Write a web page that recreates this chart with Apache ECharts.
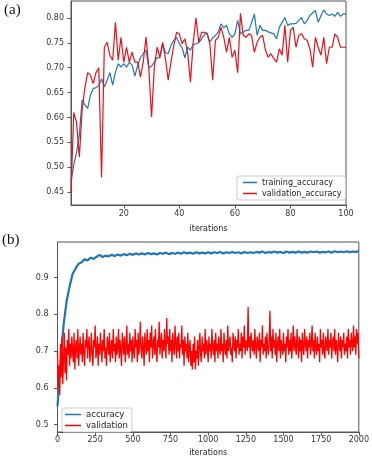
<!DOCTYPE html>
<html><head><meta charset="utf-8">
<script src="https://cdn.jsdelivr.net/npm/echarts@6/dist/echarts.min.js"></script>
<style>html,body{margin:0;padding:0;background:#fff}#c{width:372px;height:458px}</style>
</head><body><div id="c"></div>
<script>
// ---- (a) data: iterations 1..100 ----
const trainingAccuracy = [
0.47,0.505,0.53,0.565,0.635,0.625,0.618,0.645,0.658,0.660,
0.663,0.678,0.661,0.675,0.690,0.665,0.691,0.708,0.701,0.708,
0.701,0.711,0.705,0.683,0.705,0.720,0.728,0.735,0.700,0.703,
0.711,0.720,0.720,0.747,0.730,0.728,0.745,0.755,0.761,0.748,
0.740,0.720,0.741,0.735,0.747,0.748,0.750,0.758,0.766,0.770,
0.751,0.760,0.765,0.772,0.788,0.780,0.785,0.768,0.761,0.768,
0.795,0.768,0.771,0.775,0.775,0.790,0.808,0.765,0.785,0.775,
0.775,0.772,0.770,0.768,0.758,0.781,0.791,0.801,0.785,0.788,
0.788,0.789,0.795,0.801,0.788,0.795,0.805,0.810,0.815,0.791,
0.805,0.816,0.808,0.805,0.808,0.803,0.811,0.803,0.808,0.808];
const validationAccuracy = [
0.45,0.61,0.59,0.52,0.615,0.66,0.69,0.685,0.668,0.69,
0.70,0.48,0.741,0.751,0.725,0.715,0.791,0.715,0.761,0.711,
0.741,0.711,0.731,0.711,0.711,0.681,0.711,0.762,0.700,0.601,
0.701,0.741,0.721,0.751,0.718,0.675,0.711,0.745,0.771,0.768,
0.748,0.758,0.730,0.671,0.751,0.800,0.751,0.771,0.771,0.768,
0.748,0.675,0.755,0.761,0.781,0.761,0.731,0.761,0.721,0.735,
0.690,0.809,0.765,0.761,0.768,0.765,0.731,0.751,0.761,0.765,
0.735,0.721,0.728,0.718,0.711,0.738,0.725,0.785,0.711,0.775,
0.781,0.741,0.765,0.768,0.758,0.755,0.738,0.701,0.761,0.741,
0.725,0.761,0.708,0.741,0.741,0.768,0.761,0.741,0.741,0.741];
const yTicksA = [0.45,0.50,0.55,0.60,0.65,0.70,0.75,0.80];
const xTicksA = [20,40,60,80,100];

// ---- (b) data ----
// accuracy sampled every 20 iterations (0..2000)
const accuracyB = [
0.55,0.67,0.77,0.835,0.875,0.91,0.925,0.938,0.942,0.95,0.947,0.955,0.951,0.957,0.962,0.956,0.96,0.958,0.962,0.959,
0.963,0.96,0.964,0.961,0.965,0.962,0.966,0.963,0.966,0.963,0.967,0.964,0.966,0.963,0.967,0.965,0.968,0.964,0.967,0.965,
0.968,0.965,0.969,0.966,0.968,0.965,0.969,0.966,0.968,0.966,0.969,0.966,0.969,0.967,0.97,0.966,0.969,0.967,0.97,0.967,
0.969,0.966,0.97,0.967,0.969,0.967,0.97,0.968,0.971,0.967,0.97,0.968,0.971,0.968,0.97,0.967,0.971,0.968,0.97,0.968,
0.971,0.968,0.97,0.968,0.971,0.969,0.971,0.968,0.97,0.969,0.971,0.968,0.972,0.969,0.971,0.969,0.972,0.969,0.971,0.97,
0.972];
// validation sampled every 5 iterations (0..2000)
const validationB = [
0.70,0.60,0.66,0.58,0.72,0.63,0.74,0.61,0.68,0.75,0.64,0.71,0.62,0.73,0.69,0.76,0.66,0.72,0.68,0.74,
0.70,0.67,0.75,0.65,0.71,0.73,0.68,0.76,0.66,0.70,0.74,0.69,0.72,0.67,0.75,0.70,0.66,0.73,0.71,0.76,
0.68,0.72,0.74,0.67,0.70,0.75,0.69,0.66,0.73,0.71,0.77,0.68,0.70,0.74,0.66,0.72,0.69,0.75,0.71,0.67,
0.73,0.70,0.76,0.68,0.71,0.66,0.74,0.72,0.69,0.75,0.67,0.71,0.73,0.68,0.76,0.70,0.72,0.67,0.74,0.69,
0.71,0.76,0.68,0.73,0.70,0.66,0.75,0.72,0.69,0.74,0.67,0.71,0.77,0.69,0.72,0.68,0.75,0.70,0.73,0.67,
0.74,0.70,0.68,0.76,0.71,0.73,0.67,0.75,0.69,0.72,0.78,0.70,0.68,0.74,0.71,0.66,0.75,0.72,0.69,0.76,
0.70,0.73,0.67,0.75,0.71,0.77,0.68,0.72,0.74,0.69,0.76,0.70,0.67,0.73,0.71,0.78,0.69,0.72,0.75,0.68,
0.73,0.70,0.76,0.71,0.68,0.79,0.72,0.74,0.69,0.76,0.70,0.73,0.67,0.75,0.71,0.69,0.77,0.72,0.68,0.74,
0.70,0.75,0.68,0.72,0.71,0.77,0.69,0.73,0.66,0.74,0.70,0.72,0.68,0.75,0.67,0.71,0.73,0.66,0.70,0.65,
0.72,0.67,0.74,0.65,0.70,0.68,0.73,0.66,0.71,0.75,0.69,0.67,0.74,0.70,0.72,0.68,0.76,0.69,0.73,0.71,
0.67,0.74,0.70,0.72,0.68,0.76,0.71,0.69,0.73,0.67,0.75,0.70,0.72,0.68,0.74,0.71,0.69,0.76,0.70,0.72,
0.67,0.75,0.71,0.69,0.73,0.68,0.77,0.70,0.72,0.74,0.69,0.71,0.67,0.75,0.72,0.70,0.74,0.68,0.73,0.71,
0.76,0.69,0.72,0.70,0.75,0.68,0.74,0.71,0.77,0.69,0.73,0.72,0.70,0.82,0.71,0.74,0.68,0.75,0.72,0.70,
0.73,0.69,0.76,0.71,0.68,0.74,0.72,0.70,0.75,0.67,0.73,0.71,0.77,0.69,0.72,0.70,0.74,0.68,0.75,0.71,
0.69,0.73,0.81,0.70,0.74,0.68,0.76,0.71,0.73,0.69,0.75,0.67,0.72,0.74,0.70,0.76,0.68,0.73,0.71,0.69,
0.75,0.70,0.72,0.67,0.74,0.71,0.76,0.69,0.73,0.70,0.75,0.68,0.72,0.77,0.70,0.74,0.71,0.69,0.76,0.72,
0.68,0.74,0.70,0.73,0.67,0.75,0.71,0.69,0.76,0.72,0.70,0.74,0.68,0.73,0.71,0.75,0.69,0.72,0.77,0.70,
0.73,0.68,0.75,0.71,0.69,0.74,0.70,0.72,0.67,0.76,0.71,0.73,0.69,0.75,0.70,0.68,0.74,0.72,0.70,0.76,
0.69,0.73,0.71,0.75,0.68,0.72,0.74,0.70,0.76,0.69,0.73,0.71,0.67,0.75,0.72,0.70,0.74,0.68,0.73,0.71,
0.75,0.69,0.72,0.70,0.74,0.68,0.76,0.71,0.73,0.69,0.75,0.72,0.70,0.77,0.71,0.74,0.69,0.76,0.72,0.75,
0.68];
const yTicksB = [0.5,0.6,0.7,0.8,0.9];
const accStep = 20, valStep = 5;

const pairsA = arr => arr.map((v,i)=>[i+1,v]);
const pairsStep = (arr,step) => arr.map((v,i)=>[i*step,v]);

const FONT = 'DejaVu Sans';
const AX = '#555';
const lab = {fontFamily:FONT,fontSize:8,color:'#333'};

const chart = echarts.init(document.getElementById('c'),null,{renderer:'canvas'});
chart.setOption({
  animation:false,
  backgroundColor:'#fff',
  grid:[
    {left:71,top:1,width:275,height:204,show:true,borderColor:AX,borderWidth:1,backgroundColor:'transparent'},
    {left:57.5,top:242,width:303.5,height:195,show:true,borderColor:AX,borderWidth:1,backgroundColor:'transparent'}
  ],
  xAxis:[
    {gridIndex:0,type:'value',min:1,max:100,
     axisLine:{lineStyle:{color:AX}},axisTick:{length:3.5,lineStyle:{color:AX},customValues:xTicksA},
     axisLabel:Object.assign({margin:5,customValues:xTicksA,formatter:v=>String(v)},lab),splitLine:{show:false},
     name:'iterations',nameLocation:'middle',nameGap:20,nameTextStyle:{fontFamily:FONT,fontSize:8,color:'#222'}},
    {gridIndex:1,type:'value',min:0,max:2000,interval:250,
     axisLine:{lineStyle:{color:AX}},axisTick:{length:3.5,lineStyle:{color:AX}},
     axisLabel:Object.assign({margin:4,formatter:v=>String(v)},lab),splitLine:{show:false},
     name:'iterations',nameLocation:'middle',nameGap:17,nameTextStyle:{fontFamily:FONT,fontSize:8,color:'#222'}}
  ],
  yAxis:[
    {gridIndex:0,type:'value',min:0.424,max:0.834,
     axisLine:{show:true,lineStyle:{color:AX}},axisTick:{show:true,length:3.5,lineStyle:{color:AX},customValues:yTicksA},
     axisLabel:Object.assign({margin:7,customValues:yTicksA,formatter:v=>v.toFixed(2)},lab),splitLine:{show:false}},
    {gridIndex:1,type:'value',min:0.48,max:0.997,
     axisLine:{show:true,lineStyle:{color:AX}},axisTick:{show:true,length:3.5,lineStyle:{color:AX},customValues:yTicksB},
     axisLabel:Object.assign({margin:9,customValues:yTicksB,formatter:v=>v.toFixed(1)},lab),splitLine:{show:false}}
  ],
  legend:[
    {data:['training_accuracy','validation_accuracy'],left:237,top:176,orient:'vertical',
     icon:'rect',itemWidth:14,itemHeight:1.5,itemGap:2,padding:[2,4,2,6],
     backgroundColor:'#fff',borderColor:'#ccc',borderWidth:1,borderRadius:2,
     textStyle:{fontFamily:FONT,fontSize:8,color:'#222',lineHeight:9}},
    {data:['accuracy','validation'],left:62,top:408,orient:'vertical',
     icon:'rect',itemWidth:16,itemHeight:1.5,itemGap:2,padding:[2,4,2,3],
     backgroundColor:'#fff',borderColor:'#ccc',borderWidth:1,borderRadius:2,
     textStyle:{fontFamily:FONT,fontSize:8.5,color:'#222',lineHeight:9}}
  ],
  series:[
    {name:'training_accuracy',type:'line',xAxisIndex:0,yAxisIndex:0,data:pairsA(trainingAccuracy),
     showSymbol:false,lineStyle:{color:'#1f77b4',width:1.2},itemStyle:{color:'#1f77b4'}},
    {name:'validation_accuracy',type:'line',xAxisIndex:0,yAxisIndex:0,data:pairsA(validationAccuracy),
     showSymbol:false,lineStyle:{color:'#e8101a',width:1.2},itemStyle:{color:'#e8101a'}},
    {name:'accuracy',type:'line',xAxisIndex:1,yAxisIndex:1,data:pairsStep(accuracyB,accStep),
     showSymbol:false,lineStyle:{color:'#1f77b4',width:2.2},itemStyle:{color:'#1f77b4'}},
    {name:'validation',type:'line',xAxisIndex:1,yAxisIndex:1,data:pairsStep(validationB,valStep),
     showSymbol:false,lineStyle:{color:'#ff0000',width:1.3},itemStyle:{color:'#ff0000'}}
  ],
  graphic:[
    {type:'text',left:4,top:3,style:{text:'(a)',font:'15px "Liberation Serif", serif',fill:'#111'}},
    {type:'text',left:2,top:233,style:{text:'(b)',font:'15px "Liberation Serif", serif',fill:'#111'}}
  ]
});
</script></body></html>
